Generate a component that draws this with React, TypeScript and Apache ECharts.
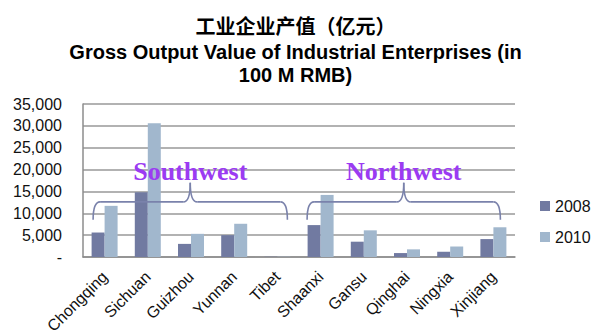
import React, { useEffect, useRef } from "react";
import * as echarts from "echarts";

const provinces = ["Chongqing", "Sichuan", "Guizhou", "Yunnan", "Tibet", "Shaanxi", "Gansu", "Qinghai", "Ningxia", "Xinjiang"];
const output2008 = [5600, 14800, 3000, 5000, 50, 7300, 3500, 900, 1200, 4100];
const output2010 = [11700, 30600, 5300, 7600, 60, 14200, 6100, 1750, 2400, 6800];
const seriesNames = ["2008", "2010"];
const yTicks = { min: 0, max: 35000, interval: 5000 };

// Regional groupings drawn as braces above the bars
const regions = [
  { name: "Southwest", from: "Chongqing", to: "Tibet", dxFrom: -11.5, dxTo: 10 },
  { name: "Northwest", from: "Shaanxi", to: "Xinjiang", dxFrom: -13.5, dxTo: 7 },
];
// brace geometry expressed in value units
const braceLevel = 12600;
const braceEnd = 8500;
const bracePeak = 17000;
const labelLevel = 19600;

const BRACE_COLOR = "#7a82ab";
const LABEL_COLOR = "#9b3bf2";

export default function App() {
  const ref = useRef<HTMLDivElement>(null);

  useEffect(() => {
    const chart = echarts.init(ref.current!, null, { renderer: "svg" });
    chart.setOption({
      animation: false,
      backgroundColor: "#fff",
      title: [
        {
          text: "工业企业产值（亿元）",
          left: "center",
          top: 10,
          textStyle: { fontFamily: "Noto Sans CJK SC", fontSize: 20, fontWeight: "bold", color: "#000" },
        },
        {
          text: "Gross Output Value of Industrial Enterprises (in\n100 M RMB)",
          left: "center",
          top: 35,
          textStyle: { fontFamily: "Liberation Sans", fontSize: 20, fontWeight: "bold", color: "#000", lineHeight: 23 },
        },
      ],
      legend: {
        orient: "vertical",
        left: 540,
        top: 198,
        padding: 0,
        itemWidth: 10,
        itemHeight: 10,
        itemGap: 15,
        icon: "rect",
        data: seriesNames,
        textStyle: { fontFamily: "Liberation Sans", fontSize: 16, color: "#111" },
      },
      grid: { left: 83, right: 76, top: 104, bottom: 78, containLabel: false, outerBoundsMode: "none" },
      xAxis: {
        type: "category",
        data: provinces,
        axisLine: { show: true, lineStyle: { color: "#8c8c8c", width: 1.5 } },
        axisTick: { show: false },
        axisLabel: {
          rotate: 45,
          interval: 0,
          margin: 17,
          fontFamily: "Liberation Sans",
          fontSize: 16,
          color: "#111",
        },
      },
      yAxis: {
        type: "value",
        min: yTicks.min,
        max: yTicks.max,
        interval: yTicks.interval,
        axisLine: { show: true, lineStyle: { color: "#8c8c8c", width: 1.5 } },
        axisTick: { show: false },
        splitLine: { lineStyle: { color: "#999", width: 1.5 } },
        axisLabel: {
          margin: 21,
          fontFamily: "Liberation Sans",
          fontSize: 16,
          color: "#111",
          formatter: (v: number) => (v === 0 ? "-" : v.toLocaleString("en-US")),
        },
      },
      series: [
        {
          name: seriesNames[0],
          type: "bar",
          data: output2008,
          barWidth: 13,
          barGap: "0%",
          itemStyle: { color: "#717aa1" },
        },
        {
          name: seriesNames[1],
          type: "bar",
          data: output2010,
          barWidth: 13,
          barGap: "0%",
          itemStyle: { color: "#a1b7cd" },
        },
      ],
    });

    const toPx = (cat: string, val: number) =>
      chart.convertToPixel({ gridIndex: 0 }, [cat, val]) as number[];

    const graphics: any[] = [];
    const stroke = { stroke: BRACE_COLOR, lineWidth: 1.6, fill: "none" };
    regions.forEach((r) => {
      const [xa] = toPx(r.from, 0);
      const [xb] = toPx(r.to, 0);
      const x0 = xa + r.dxFrom;
      const x1 = xb + r.dxTo;
      const xc = (x0 + x1) / 2;
      const yH = toPx(r.from, braceLevel)[1];
      const yE = toPx(r.from, braceEnd)[1];
      const yP = toPx(r.from, bracePeak)[1];
      const yL = toPx(r.from, labelLevel)[1];
      const rad = 7;
      graphics.push(
        { type: "bezierCurve", z: 100, shape: { x1: x0, y1: yE, cpx1: x0, cpy1: yH, x2: x0 + rad, y2: yH }, style: stroke },
        { type: "line", z: 100, shape: { x1: x0 + rad, y1: yH, x2: xc - rad, y2: yH }, style: stroke },
        { type: "bezierCurve", z: 100, shape: { x1: xc - rad, y1: yH, cpx1: xc, cpy1: yH, x2: xc, y2: yP }, style: stroke },
        { type: "bezierCurve", z: 100, shape: { x1: xc, y1: yP, cpx1: xc, cpy1: yH, x2: xc + rad, y2: yH }, style: stroke },
        { type: "line", z: 100, shape: { x1: xc + rad, y1: yH, x2: x1 - rad, y2: yH }, style: stroke },
        { type: "bezierCurve", z: 100, shape: { x1: x1 - rad, y1: yH, cpx1: x1, cpy1: yH, x2: x1, y2: yE }, style: stroke },
        {
          type: "text",
          z: 101,
          x: xc,
          y: yL,
          style: {
            text: r.name,
            fill: LABEL_COLOR,
            font: "bold 26px 'Liberation Serif'",
            textAlign: "center",
            textVerticalAlign: "middle",
          },
        }
      );
    });
    chart.setOption({ graphic: graphics });

    return () => chart.dispose();
  }, []);

  return <div ref={ref} style={{ position: "fixed", left: 0, top: 0, width: 591, height: 335 }} />;
}
